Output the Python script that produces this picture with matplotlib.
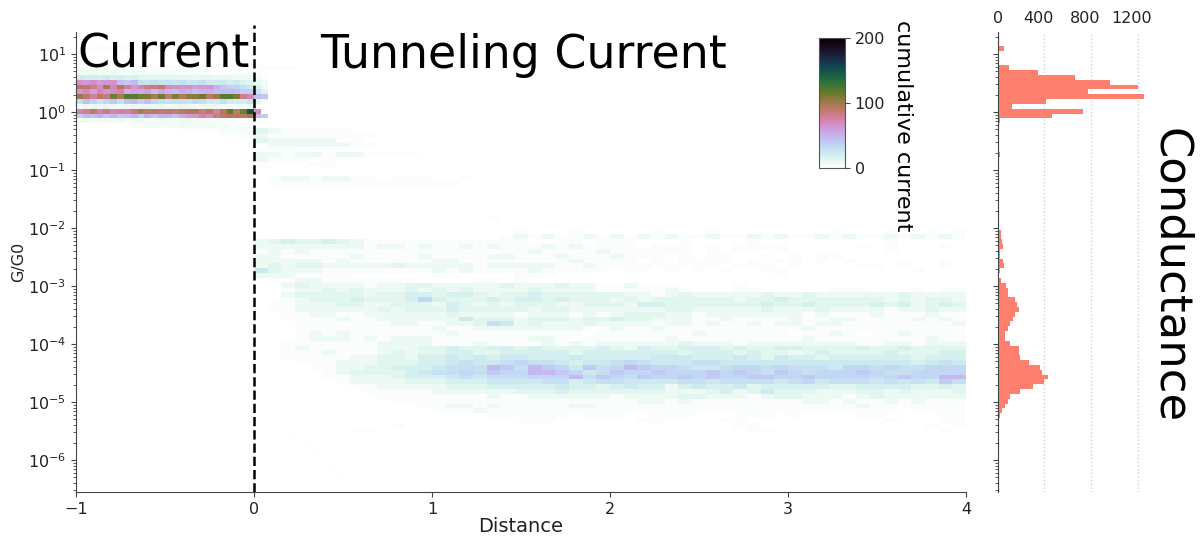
import numpy as np
import matplotlib
matplotlib.use('Agg')
import matplotlib.pyplot as plt
from matplotlib.ticker import LogLocator, NullFormatter
from matplotlib.transforms import ScaledTranslation

# histogram counts, one per conductance bin, top bin first
hist_counts = [0, 0, 52, 0, 0, 15, 100, 345, 660, 960, 1200, 775, 1250, 415, 120, 735, 465, 20, 6, 3,
               3, 10, 12, 0, 20, 0, 0, 0, 0, 8, 8, 0, 0, 0, 6, 6, 0, 0, 0, 0,
               30, 25, 37, 45, 20, 20, 45, 50, 20, 15, 30, 70, 85, 85, 150, 165, 180, 150, 130, 105,
               85, 65, 60, 105, 185, 185, 190, 265, 365, 380, 430, 400, 300, 190, 105, 85, 65, 35, 22, 8]
hist_ticks = [0, 400, 800, 1200]
colorbar_ticks = [0, 100, 200]
y_ticks = [1e-6, 1e-5, 1e-4, 1e-3, 1e-2, 1e-1, 1e0, 1e1]

# current region, row number -> counts for the cells left of x = 2/26
current_rows = {
    2: [0, 0, 3, 3, 3, 2, 3, 3, 3, 3, 3, 2, 3, 3, 3, 3, 2, 3, 3, 3, 3, 2, 3],
    6: [3, 3, 3, 3, 4, 3, 3, 3, 3, 4, 3, 3, 3, 2, 3, 3, 3, 3, 3, 3, 3, 3, 3, 3, 3, 3],
    7: [6, 7, 8, 7, 6, 8, 7, 6, 7, 8, 6, 5, 5, 5, 6, 4, 5, 4, 4, 3, 3, 3, 3, 3, 3, 3, 3],
    8: [22, 20, 20, 18, 24, 18, 20, 16, 18, 14, 14, 12, 14, 14, 12, 12, 12, 10, 12, 12, 10, 10, 10, 8, 8, 8, 6, 3],
    9: [66, 62, 68, 60, 64, 66, 44, 42, 48, 30, 26, 32, 28, 28, 26, 30, 24, 26, 30, 22, 22, 24, 18, 24, 16, 14, 10, 6],
    10: [92, 90, 82, 70, 98, 72, 94, 78, 62, 72, 84, 86, 90, 70, 68, 64, 66, 60, 62, 64, 50, 42, 38, 36, 30, 24, 16, 8],
    11: [64, 70, 58, 72, 62, 68, 74, 50, 56, 52, 58, 46, 54, 48, 44, 52, 50, 44, 48, 50, 44, 46, 46, 44, 36, 38, 26, 14],
    12: [100, 90, 78, 92, 86, 112, 96, 120, 118, 112, 110, 96, 112, 88, 108, 94, 104, 106, 114, 92, 100, 118, 120, 108, 80, 72, 44, 44],
    13: [30, 44, 36, 28, 34, 40, 30, 44, 48, 38, 46, 34, 30, 28, 30, 30, 28, 34, 30, 24, 22, 30, 22, 20, 18, 26, 12, 6],
    14: [6, 8, 10, 8, 10, 8, 6, 8, 10, 8, 10, 8, 10, 6, 8, 10, 8, 6, 8, 8, 8, 6, 6, 5, 6, 6],
    15: [74, 80, 90, 76, 84, 72, 78, 76, 86, 96, 90, 92, 88, 90, 86, 92, 94, 96, 84, 92, 76, 94, 116, 90, 112, 150, 70, 0],
    16: [40, 50, 46, 52, 42, 50, 40, 44, 52, 38, 52, 44, 50, 52, 44, 54, 62, 64, 76, 68, 84, 90, 94, 94, 92, 98, 46, 40],
    17: [6, 8, 6, 6, 6, 6, 8, 6, 8, 8, 6, 6, 8, 6, 6, 8, 8, 6, 6, 4, 4, 4, 2, 2, 3, 3],
    18: [0, 0, 0, 0, 0, 0, 0, 3, 4, 4, 5, 5, 6, 6, 6, 7, 6, 7, 7, 6, 6, 5, 4, 3, 2, 2],
    19: [0, 0, 0, 0, 0, 0, 0, 0, 0, 0, 0, 0, 0, 0, 0, 2, 2, 3, 3, 2, 3, 4, 4, 4, 4, 4],
    20: [0, 0, 0, 0, 0, 0, 0, 0, 0, 0, 0, 0, 0, 0, 0, 0, 0, 0, 0, 0, 0, 2, 2, 2, 3, 3],
}

# tunneling region, one digit per 2-cell block from x = 0, row number -> digits
tunnel_rows = {
    6: '1110',
    19: '3211111',
    20: '2111111110',
    21: '32222211',
    22: '0222222110',
    23: '1110000',
    24: '2212212211110',
    25: '2111010',
    26: '1000110',
    29: '0122122110111001',
    30: '0111111111111110',
    37: '0000000000000000010',
    40: '0000000000000000000100010000010001000000001000100101',
    41: '0000000000000000001212112121212112112121121211212121',
    42: '2343343211111111111100110111000100001000000000100000',
    43: '2222222212212112121112121111011101011110000010100010',
    44: '1212111111111111101121111211111101011010000000100000',
    45: '2211111211112111122111211121110101100101011000000000',
    46: '2222212111111221111111121111010111101011010100010010',
    47: '2323322222322222122222112111111111011101000011010010',
    48: '5322211111111212111121111101101010100110000000001000',
    49: '2221111000000110000111000000000000000010000000000000',
    50: '0112211111110000110100000000000000000000000000000000',
    51: '0023222212233222223222322112111000010000000000000000',
    52: '0012232322232323222232222111112100011000001110001011',
    53: '0023333323344344323343333332212322222322322222232222',
    54: '0012333433347433343443433323233333323343333333232332',
    55: '0112223322333243232333223332443333333433433334342343',
    56: '0112222223233343333323322222223322222322232222122322',
    57: '0011221122222232222122212123332212222222121112111211',
    58: '0011112112222225333233323343322211211112112211112121',
    59: '0001111111221122365232223222212212112122122111111112',
    60: '0001111111111211222222221121121111111111211111111111',
    61: '0001212111111121111111110111111121111110112101121111',
    62: '0001222121222111111122101111112111111111211111111211',
    63: '0011111112222111211112121222222322212222222211221222',
    64: '0012111112223343344343333432433444343344333343343333',
    65: '0011121112323344334444434444444344434332343333433344',
    66: '0011111223324454545544454444455544454354434444443444',
    67: '0001112223334456556766545567655566555555555555554565',
    68: '0000112233444566698698758679877655677676665776766777',
    69: '0000012333345667687799875687787778787687677787667777',
    70: '0000011222344456566677796876877878778877877776787799',
    71: '0000001222233344455556645665555665666656756665656586',
    72: '0000000112222233344444544345442454453444443344443343',
    73: '0000000011111222222333433333332223423533322233232223',
    74: '0000000001111111121122222212222332221233222123222222',
    75: '0000000000111111111111111111221211111111221211212111',
    76: '0000000000001122121111122111111111111111111121111111',
    77: '0000000000000111211111111111111111111111111111101111',
    78: '0000000000000000011111101110011100011101000011000011',
    79: '0000000000000000000111000000110000110000000000100011',
    80: '0000000000100000000000000000000000011000000000000101',
    81: '0000000110000000000000000000000000001100000000000010',
}
# counts that each digit in tunnel_rows stands for
digit_counts = [0, 3, 8, 13, 18, 24, 29, 34, 40, 48]

# very faint diagonal streak below the tunneling bands
streak_rows = [82, 84, 85, 87, 89, 91, 93]
streak_cols = [31, 33, 34, 35, 37, 38, 40]
streak_vals = [2, 2, 2, 1, 2, 1, 1]

n_cols = 130
n_rows = 94

H = np.zeros((n_rows, n_cols))
for row, digits in tunnel_rows.items():
    for j, d in enumerate(digits):
        H[row, 26 + 2 * j:28 + 2 * j] = digit_counts[int(d)]
for row, vals in current_rows.items():
    for col, v in enumerate(vals):
        if v > 0:
            H[row, col] = v
for row, col, v in zip(streak_rows, streak_cols, streak_vals):
    H[row, col] = v

x_edges = np.linspace(-1, 4, n_cols + 1)
top_edge = -0.029 + 16 / 12
log_edges = top_edge - np.arange(n_rows + 1) / 12
y_edges = 10.0 ** log_edges

W, H_PX = 1204, 539
y_low, y_high = 10 ** -6.552, 10 ** 1.379
plt.rcParams['axes.edgecolor'] = '#444444'
plt.rcParams['xtick.color'] = '#444444'
plt.rcParams['ytick.color'] = '#444444'
plt.rcParams['xtick.labelcolor'] = '#222222'
plt.rcParams['ytick.labelcolor'] = '#222222'


def px_axes(left, top, right, bottom):
    return [left / W, 1 - bottom / H_PX, (right - left) / W, (bottom - top) / H_PX]


fig = plt.figure(figsize=(12.04, 5.39), dpi=100)
ax = fig.add_axes(px_axes(76, 32, 966, 492))
mesh = ax.pcolormesh(x_edges, y_edges, H, cmap='cubehelix_r', vmin=0, vmax=200, linewidth=0, rasterized=True)
ax.set_yscale('log')
ax.set_xticks([-1, 0, 1, 2, 3, 4])
ax.set_yticks(y_ticks)
ax.yaxis.set_minor_locator(LogLocator(base=10, subs=range(2, 10), numticks=12))
ax.yaxis.set_minor_formatter(NullFormatter())
ax.set_xlim(-1, 4)
ax.set_ylim(y_low, y_high)
ax.tick_params(labelsize=11.5)
ax.set_xlabel('Distance', fontsize=14, labelpad=0, color='#222222')
ax.set_ylabel('G/G0', fontsize=11.5, labelpad=1, color='#222222')
ax.spines['top'].set_visible(False)
ax.spines['right'].set_visible(False)
ax.plot([0, 0], [y_low, 10 ** 1.5], color='k', ls='--', lw=1.8, clip_on=False)

ax.text(-0.99, 10 ** 0.98, 'Current', fontsize=33, va='center', ha='left')
ax.text(0.37, 10 ** 0.98, 'Tunneling Current', fontsize=33, va='center', ha='left')

cax = fig.add_axes(px_axes(819, 38, 845, 168))
cbar = fig.colorbar(mesh, cax=cax, ticks=colorbar_ticks)
cbar.ax.tick_params(labelsize=11.5)
cbar.outline.set_edgecolor('#555555')
fig.text(903 / W, 1 - 126 / H_PX, 'cumulative current', fontsize=16, rotation=270, ha='center', va='center')

hax = fig.add_axes(px_axes(997.7, 32, 1161, 492))
counts = np.array(hist_counts)
lows = 10.0 ** log_edges[1:len(counts) + 1]
highs = 10.0 ** log_edges[:len(counts)]
hax.barh(lows, counts, height=highs - lows, align='edge', color='#ff7f6e', linewidth=0, zorder=2)
hax.set_yscale('log')
hax.set_yticks(y_ticks)
hax.yaxis.set_minor_locator(LogLocator(base=10, subs=range(2, 10), numticks=12))
hax.yaxis.set_major_formatter(NullFormatter())
hax.yaxis.set_minor_formatter(NullFormatter())
hax.set_ylim(y_low, y_high)
hax.set_xlim(0, 1400)
hax.set_xticks(hist_ticks)
hax.xaxis.tick_top()
hax.tick_params(axis='x', length=0, labelsize=11.5, pad=4)
# the upper labels sit a little left of their grid lines in the reference
for label in hax.get_xticklabels()[1:]:
    label.set_transform(label.get_transform() + ScaledTranslation(-6 / 100, 0, fig.dpi_scale_trans))
hax.grid(axis='x', color='#cfcfcf', ls=':', lw=1, zorder=0)
hax.set_axisbelow(True)
for side in ['top', 'right', 'bottom']:
    hax.spines[side].set_visible(False)
fig.text(1170 / W, 1 - 276 / H_PX, 'Conductance', fontsize=32.3, rotation=270, ha='center', va='center')

plt.savefig('out.png', dpi=100)
